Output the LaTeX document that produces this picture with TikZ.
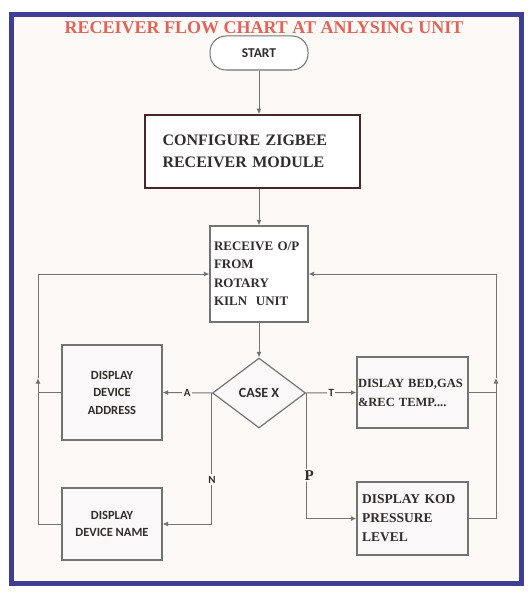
\documentclass[tikz,border=0pt]{standalone}
\usepackage{fontspec}
\setmainfont{Liberation Serif}
\newfontfamily\sansb{Carlito}
\usetikzlibrary{shapes.geometric,arrows.meta}
\definecolor{framecol}{RGB}{62,62,150}
\definecolor{bgpink}{RGB}{253,249,247}
\definecolor{titlered}{RGB}{228,98,86}
\definecolor{linegray}{RGB}{115,115,115}
\definecolor{txt}{RGB}{50,45,45}
\definecolor{cfgborder}{RGB}{70,40,40}
\definecolor{boxfill}{RGB}{250,248,248}
\tikzset{
  conn/.style={draw=linegray, line width=1pt},
  tip/.tip={Latex[length=5.5pt,width=5pt]},
  lbl/.style={fill=bgpink, inner sep=1.5pt, text=txt, font=\sansb\bfseries\fontsize{11}{12}\selectfont},
  plainbox/.style={draw=linegray, line width=1.2pt, fill=boxfill, text=txt},
  serifbox/.style={plainbox, align=left},
  sansbox/.style={plainbox, font=\sansb\bfseries\fontsize{12.5}{17.5}\selectfont, align=center},
}
\begin{document}
\begin{tikzpicture}[x=1pt,y=-1pt]
\fill[white] (0,0) rectangle (531,594);
\useasboundingbox (0,0) rectangle (531,594);
\fill[bgpink] (11,15) rectangle (521,583);
\draw[framecol, line width=5pt] (11,15) rectangle (521,583);

\node[text=titlered, font=\bfseries\fontsize{18}{20}\selectfont] (title) at (264,28) {RECEIVER FLOW CHART AT ANLYSING UNIT};

\node[draw=linegray, line width=1pt, fill=white, rounded corners=16pt, minimum width=98pt, minimum height=34pt, inner sep=0pt, text=txt, font=\sansb\bfseries\fontsize{13.5}{14}\selectfont] (start) at (259,53) {START};

\node[draw=cfgborder, line width=1.6pt, fill=white, text=txt, minimum height=73pt, text width=180pt, inner xsep=17.5pt, align=left, font=\bfseries\fontsize{16}{22}\selectfont] (cfg) at (252.5,151.5) {CONFIGURE ZIGBEE\\RECEIVER MODULE};

\node[serifbox, fill=white, minimum height=96pt, text width=90pt, inner xsep=4pt, font=\bfseries\fontsize{13}{18.5}\selectfont] (recv) at (259,274) {RECEIVE O/P\\FROM\\ROTARY\\KILN\ \ UNIT};

\node[diamond, draw=linegray, line width=1.2pt, fill=boxfill, minimum width=93pt, minimum height=70pt, inner sep=0pt, text=txt, font=\sansb\bfseries\fontsize{14}{15}\selectfont] (dia) at (259,393) {CASE X};

\node[sansbox, minimum width=100pt, minimum height=95pt] (addr) at (112,392.5) {DISPLAY\\DEVICE\\ADDRESS};

\node[serifbox, minimum height=71pt, text width=109pt, inner xsep=1pt, font=\bfseries\fontsize{12.5}{19}\selectfont] (bed) at (412.5,392.5) {DISLAY BED,GAS\\\&REC TEMP....\\[2pt]};

\node[sansbox, minimum width=100pt, minimum height=72pt] (name) at (112,524) {DISPLAY\\DEVICE NAME};

\node[serifbox, minimum height=73pt, text width=101pt, inner xsep=5pt, font=\bfseries\fontsize{13.5}{19}\selectfont] (kod) at (412.5,518.5) {DISPLAY KOD\\PRESSURE\\LEVEL};

\coordinate (LA) at (38,378);
\coordinate (RA) at (496,378);

\draw[conn,-tip] (start) -- (start |- cfg.north);
\draw[conn,-tip] (start |- cfg.south) -- (recv.north);
\draw[conn,-tip] (recv) -- (dia);
\draw[conn,-tip] (dia.west) -- node[lbl]{A} (addr.east);
\draw[conn,-tip] (dia.east) -- node[lbl]{T} (bed.east -| bed.west);
\draw[conn,-tip] (dia.west) |- node[lbl, pos=0.33]{N} (name.east);
\draw[conn,-tip] (dia.east) |- node[lbl, pos=0.33, xshift=3pt, font=\bfseries\fontsize{15}{16}\selectfont]{P} (kod.west);

\draw[conn,-tip] (name.west) -| (LA);
\draw[conn,-tip] (LA) |- (recv.west);
\draw[conn] (addr.west) -- (addr.west -| LA);
\draw[conn,-tip] (kod.east) -| (RA);
\draw[conn,-tip] (RA) |- (recv.east);
\draw[conn] (bed.east) -- (bed.east -| RA);
\end{tikzpicture}
\end{document}
